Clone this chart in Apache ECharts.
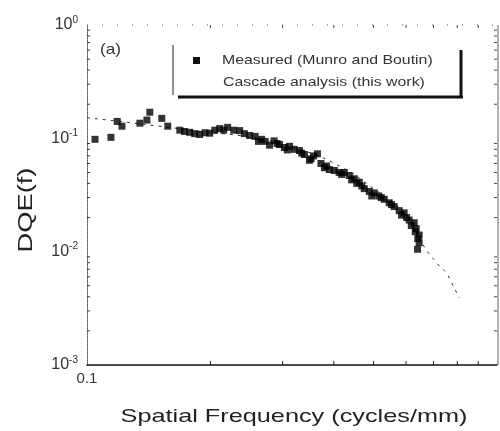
<!DOCTYPE html>
<html>
<head>
<meta charset="utf-8">
<script src="https://cdn.jsdelivr.net/npm/echarts@6/dist/echarts.min.js"></script>
<style>
  html, body { margin: 0; padding: 0; background: #fff; }
  #chart { width: 500px; height: 431px; }
</style>
</head>
<body>
<div id="chart"></div>
<script>
// DQE(f) 对数坐标图
const measuredFreq = [0.1046, 0.1144, 0.1185, 0.1217, 0.1346, 0.1400, 0.1423, 0.1522, 0.1574, 0.1684,
  0.1730, 0.178, 0.183, 0.1883, 0.194, 0.1992, 0.205, 0.2107, 0.2155, 0.2203,
  0.228, 0.2357, 0.242, 0.2493, 0.257, 0.2666, 0.272, 0.2788, 0.286, 0.2948,
  0.303, 0.3118, 0.320, 0.3297, 0.339, 0.3487, 0.357, 0.3648, 0.372, 0.3794,
  0.390, 0.4012, 0.412, 0.4243, 0.436, 0.4487, 0.455, 0.4615, 0.4745, 0.488,
  0.5018, 0.515, 0.5308, 0.5458, 0.5614, 0.5773, 0.5937, 0.6106, 0.6281, 0.635,
  0.6459, 0.6459, 0.640,
  0.262, 0.291, 0.308, 0.334, 0.352, 0.384, 0.418, 0.442, 0.468, 0.495,
  0.522, 0.553, 0.585, 0.602, 0.618, 0.632, 0.641]
const measuredDqe = [0.098, 0.102, 0.141, 0.128, 0.136, 0.145, 0.170, 0.150, 0.128, 0.118,
  0.115, 0.113, 0.110, 0.108, 0.112, 0.111, 0.118, 0.122, 0.118, 0.125,
  0.118, 0.117, 0.110, 0.106, 0.104, 0.098, 0.094, 0.087, 0.095, 0.088,
  0.083, 0.085, 0.080, 0.078, 0.072, 0.064, 0.070, 0.073, 0.060, 0.055,
  0.053, 0.052, 0.050, 0.050, 0.047, 0.044, 0.040, 0.041, 0.036, 0.034,
  0.033, 0.031, 0.029, 0.027, 0.025, 0.023, 0.022, 0.019, 0.018, 0.016,
  0.014, 0.012, 0.0105,
  0.094, 0.090, 0.079, 0.074, 0.066, 0.057, 0.048, 0.043, 0.038, 0.031,
  0.030, 0.026, 0.021, 0.020, 0.017, 0.015, 0.013]

const cascadeFreq = [0.100, 0.118, 0.150, 0.190, 0.250, 0.330, 0.420, 0.500, 0.580, 0.620, 0.660, 0.714, 0.752, 0.773, 0.810]
const cascadeDqe = [0.152, 0.142, 0.128, 0.115, 0.102, 0.080, 0.055, 0.036, 0.024, 0.018, 0.0115, 0.0079, 0.0065, 0.0054, 0.0039]

const xMinorTicks = [0.2, 0.3, 0.4, 0.5, 0.6, 0.7, 0.8, 0.9]
const yMinorTicks = [0.002, 0.003, 0.004, 0.005, 0.006, 0.007, 0.008, 0.009,
  0.02, 0.03, 0.04, 0.05, 0.06, 0.07, 0.08, 0.09,
  0.2, 0.3, 0.4, 0.5, 0.6, 0.7, 0.8, 0.9]

const legendNames = ['Measured (Munro and Boutin)', 'Cascade analysis (this work)']
const xTitle = 'Spatial Frequency (cycles/mm)'
const yTitle = 'DQE(f)'

const xMin = 0.1, xMax = 1, yMin = 0.001, yMax = 1
const font = 'Liberation Sans, Arial, sans-serif'

const chart = echarts.init(document.getElementById('chart'))

const option = {
  animation: false,
  textStyle: { fontFamily: font },
  grid: { left: 87, right: 2, top: 25, bottom: 66 },
  xAxis: {
    type: 'log',
    logBase: 10,
    min: xMin,
    max: xMax,
    axisLine: { show: true, onZero: false, lineStyle: { color: '#111', width: 1.5 } },
    axisTick: { show: false },
    splitLine: { show: false },
    axisLabel: {
      fontSize: 15,
      color: '#333',
      margin: 6,
      formatter: v => (Math.abs(v - 0.1) < 1e-9 ? '0.1' : '')
    }
  },
  yAxis: {
    type: 'log',
    logBase: 10,
    min: yMin,
    max: yMax,
    axisLine: { show: true, lineStyle: { color: '#555', width: 1, type: 'dotted' } },
    axisTick: { show: false },
    splitLine: { show: false },
    axisLabel: {
      margin: 9,
      formatter: v => '{b|10}{s|' + Math.round(Math.log10(v)) + '}',
      rich: {
        b: { fontSize: 16, color: '#333' },
        s: { fontSize: 10, color: '#333', padding: [0, 0, 10, 0] }
      }
    }
  },
  graphic: [
    // 坐标轴标题 (原图横向拉伸)
    { type: 'text', x: 294, y: 417, scaleX: 1.33, style: { text: xTitle, fill: '#222', font: '19px ' + font, align: 'center', verticalAlign: 'middle' } },
    { type: 'text', x: 26, y: 210, rotation: Math.PI / 2, scaleX: 1.3, style: { text: yTitle, fill: '#222', font: '21px ' + font, align: 'center', verticalAlign: 'middle' } },
    // 右边框和上边框
    { type: 'line', shape: { x1: 498, y1: 25, x2: 498, y2: 365 }, style: { stroke: '#666', lineWidth: 1 } },
    { type: 'line', shape: { x1: 87, y1: 25, x2: 498, y2: 25 }, style: { stroke: '#555', lineWidth: 1, lineDash: [1, 14] } },
    // 图注框 (阴影样式)
    { type: 'line', shape: { x1: 173, y1: 45, x2: 173, y2: 95 }, style: { stroke: '#222', lineWidth: 1 } },
    { type: 'line', shape: { x1: 178, y1: 97, x2: 463, y2: 97 }, style: { stroke: '#111', lineWidth: 3 } },
    { type: 'line', shape: { x1: 461, y1: 50, x2: 461, y2: 97 }, style: { stroke: '#111', lineWidth: 3 } },
    { type: 'rect', shape: { x: 193, y: 57, width: 7, height: 7 }, style: { fill: '#111' } },
    { type: 'text', x: 222, y: 60, scaleX: 1.22, style: { text: legendNames[0], fill: '#333', font: '13px ' + font, verticalAlign: 'middle' } },
    { type: 'text', x: 223, y: 82, scaleX: 1.22, style: { text: legendNames[1], fill: '#333', font: '13px ' + font, verticalAlign: 'middle' } },
    { type: 'text', x: 100, y: 50, scaleX: 1.15, style: { text: '(a)', fill: '#333', font: '15px ' + font, verticalAlign: 'middle' } }
  ],
  series: [
    {
      name: legendNames[1],
      type: 'line',
      data: cascadeFreq.map((f, i) => [f, cascadeDqe[i]]),
      showSymbol: false,
      smooth: true,
      lineStyle: { color: '#333', width: 1, type: [3, 5] },
      z: 2
    },
    {
      name: legendNames[0],
      type: 'scatter',
      data: measuredFreq.map((f, i) => [f, measuredDqe[i]]),
      symbol: 'rect',
      symbolSize: 7,
      itemStyle: { color: '#000' },
      z: 3
    },
    {
      // x 次刻度 (上下)
      type: 'custom',
      data: xMinorTicks,
      silent: true,
      renderItem: (params, api) => {
        const b = api.coord([api.value(0), yMin])
        const t = api.coord([api.value(0), yMax])
        return {
          type: 'group',
          children: [
            { type: 'line', shape: { x1: b[0], y1: b[1], x2: b[0], y2: b[1] - 4 }, style: { stroke: '#222', lineWidth: 1 } },
            { type: 'line', shape: { x1: t[0], y1: t[1], x2: t[0], y2: t[1] + 3 }, style: { stroke: '#444', lineWidth: 1 } }
          ]
        }
      },
      encode: { x: 0 }
    },
    {
      // y 次刻度 (左右)
      type: 'custom',
      data: yMinorTicks,
      silent: true,
      renderItem: (params, api) => {
        const l = api.coord([xMin, api.value(0)])
        const r = api.coord([xMax, api.value(0)])
        return {
          type: 'group',
          children: [
            { type: 'line', shape: { x1: l[0], y1: l[1], x2: l[0] + 3, y2: l[1] }, style: { stroke: '#333', lineWidth: 1 } },
            { type: 'line', shape: { x1: r[0] - 3, y1: r[1], x2: r[0], y2: r[1] }, style: { stroke: '#444', lineWidth: 1 } }
          ]
        }
      },
      encode: { y: 0 }
    }
  ]
}

option && chart.setOption(option)
</script>
</body>
</html>
